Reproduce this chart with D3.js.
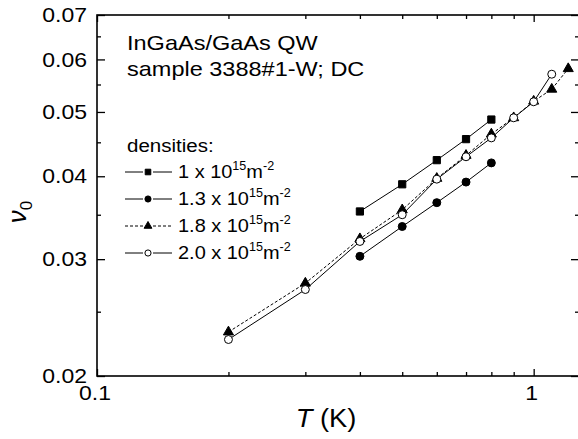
<!DOCTYPE html>
<html>
<head>
<meta charset="utf-8">
<script src="https://cdn.jsdelivr.net/npm/d3@7"></script>
<style>
  body { margin: 0; background: #fff; }
  text { font-family: "Liberation Sans", Arial, sans-serif; fill: #000; }
</style>
</head>
<body>
<div id="chart"></div>
<script>
// data
var temps1 = [0.4, 0.5, 0.6, 0.7, 0.8];
var nu1 = [0.0354, 0.0389, 0.0423, 0.0455, 0.0487];

var temps13 = [0.4, 0.5, 0.6, 0.7, 0.8];
var nu13 = [0.0303, 0.0336, 0.0365, 0.0392, 0.0419];

var temps18 = [0.2, 0.3, 0.4, 0.5, 0.6, 0.7, 0.8, 0.9, 1.0, 1.1, 1.2];
var nu18 = [0.0233, 0.0276, 0.0322, 0.0356, 0.0397, 0.0430, 0.0463, 0.0490, 0.0519, 0.0541, 0.0581];

var temps20 = [0.2, 0.3, 0.4, 0.5, 0.6, 0.7, 0.8, 0.9, 1.0, 1.1];
var nu20 = [0.0227, 0.0270, 0.0319, 0.0350, 0.0396, 0.0428, 0.0457, 0.0490, 0.0518, 0.0570];

var xMajor = [0.1, 1];
var xMinor = [0.2, 0.3, 0.4, 0.5, 0.6, 0.7, 0.8, 0.9];
var yMajor = [0.02, 0.03, 0.04, 0.05, 0.06, 0.07];
var yMinor = [0.025, 0.035, 0.045, 0.055, 0.065];

var legendLabels = ["1", "1.3", "1.8", "2.0"];

var margin = { top: 15, right: -1, bottom: 63, left: 97 },
    W = 578, H = 439,
    width = W - margin.left - margin.right,
    height = H - margin.top - margin.bottom;

var svg = d3.select("#chart")
    .append("svg")
    .attr("width", W)
    .attr("height", H);

var g = svg.append("g")
    .attr("transform", "translate(" + margin.left + "," + margin.top + ")");

var x = d3.scaleLog().domain([0.1, 1.27]).range([0, width]);
var y = d3.scaleLog().domain([0.02, 0.07]).range([height, 0]);

// frame
g.append("rect")
    .attr("width", width)
    .attr("height", height)
    .attr("fill", "none")
    .attr("stroke", "#000")
    .attr("stroke-width", 1.6);

function tickAxis(axis, vals, size, tr) {
    var a = g.append("g")
        .attr("transform", tr)
        .call(axis.tickValues(vals).tickSize(size).tickFormat(""));
    a.select(".domain").remove();
    a.selectAll("line").attr("stroke-width", 1.3);
    return a;
}

// ticks point inward on all four sides
tickAxis(d3.axisBottom(x), xMajor, -7, "translate(0," + height + ")");
tickAxis(d3.axisBottom(x), xMinor, -4, "translate(0," + height + ")");
tickAxis(d3.axisTop(x), xMajor, -7, null);
tickAxis(d3.axisTop(x), xMinor, -4, null);
tickAxis(d3.axisLeft(y), yMajor, -8, null);
tickAxis(d3.axisLeft(y), yMinor, -4, null);
tickAxis(d3.axisRight(y), yMajor, -8, "translate(" + width + ",0)");
tickAxis(d3.axisRight(y), yMinor, -4, "translate(" + width + ",0)");

// tick labels (the original font is a little wide, so stretch it)
g.selectAll(".xlab")
    .data(xMajor)
    .enter().append("text")
    .attr("class", "xlab")
    .attr("transform", function (d) { return "translate(" + (x(d) - 2) + "," + (height + 24) + ") scale(1.15,1)"; })
    .attr("text-anchor", "middle")
    .style("font-size", "20px")
    .text(function (d) { return d === 1 ? "1" : "0.1"; });

g.selectAll(".ylab")
    .data(yMajor)
    .enter().append("text")
    .attr("class", "ylab")
    .attr("transform", function (d) { return "translate(-10," + y(d) + ") scale(1.15,1)"; })
    .attr("dy", "0.36em")
    .attr("text-anchor", "end")
    .style("font-size", "20px")
    .text(function (d) { return d.toFixed(2); });

// axis titles
var xt = svg.append("text")
    .attr("transform", "translate(326,427) scale(1.05,1)")
    .attr("text-anchor", "middle")
    .style("font-size", "26px");
xt.append("tspan").style("font-style", "italic").text("T");
xt.append("tspan").text(" (K)");

var yt = svg.append("text")
    .attr("transform", "translate(26,212) rotate(-90)")
    .attr("text-anchor", "middle")
    .style("font-size", "26px");
yt.append("tspan").style("font-style", "italic").text("\u03bd");
yt.append("tspan").attr("dy", 6).style("font-size", "17px").text("0");

// annotation
svg.append("text").attr("transform", "translate(127,50) scale(1.12,1)").style("font-size", "21px").text("InGaAs/GaAs QW");
svg.append("text").attr("transform", "translate(127,76) scale(1.12,1)").style("font-size", "21px").text("sample 3388#1-W; DC");
svg.append("text").attr("transform", "translate(127,152) scale(1.08,1)").style("font-size", "19px").text("densities:");

// series
var series = [
    { t: temps1, v: nu1, sym: d3.symbolSquare, size: 52, fill: "#000", dash: null },
    { t: temps13, v: nu13, sym: d3.symbolCircle, size: 50, fill: "#000", dash: null },
    { t: temps18, v: nu18, sym: d3.symbolTriangle, size: 44, fill: "#000", dash: "3,2" },
    { t: temps20, v: nu20, sym: d3.symbolCircle, size: 50, fill: "#fff", dash: null }
];

var line = d3.line()
    .x(function (d) { return x(d[0]); })
    .y(function (d) { return y(d[1]); });

series.forEach(function (s) {
    var pts = s.t.map(function (t, i) { return [t, s.v[i]]; });
    g.append("path")
        .datum(pts)
        .attr("fill", "none")
        .attr("stroke", "#000")
        .attr("stroke-width", 1)
        .attr("stroke-dasharray", s.dash)
        .attr("d", line);
});

series.forEach(function (s) {
    var pts = s.t.map(function (t, i) { return [t, s.v[i]]; });
    g.selectAll(null)
        .data(pts)
        .enter().append("path")
        .attr("transform", function (d) { return "translate(" + x(d[0]) + "," + y(d[1]) + ")"; })
        .attr("d", d3.symbol().type(s.sym).size(s.size))
        .attr("fill", s.fill)
        .attr("stroke", "#000")
        .attr("stroke-width", 1);
});

// legend
var legend = svg.selectAll(".legend")
    .data(series)
    .enter().append("g")
    .attr("class", "legend")
    .attr("transform", function (_, i) { return "translate(125," + [172, 199, 226, 253][i] + ")"; });

// short line either side of the marker, with a small gap
[[0, 18], [28, 47]].forEach(function (seg) {
    legend.append("line")
        .attr("x1", seg[0]).attr("x2", seg[1])
        .attr("stroke", "#000")
        .attr("stroke-width", 1)
        .attr("stroke-dasharray", function (d) { return d.dash; });
});

legend.append("path")
    .attr("transform", "translate(23,0)")
    .attr("d", function (d) { return d3.symbol().type(d.sym).size(d.size * 0.6)(); })
    .attr("fill", function (d) { return d.fill; })
    .attr("stroke", "#000")
    .attr("stroke-width", 1);

var lt = legend.append("text")
    .attr("transform", "translate(53,6) scale(1.05,1)")
    .style("font-size", "19px");
lt.append("tspan").text(function (_, i) { return legendLabels[i] + " x 10"; });
lt.append("tspan").attr("dy", -8).style("font-size", "12px").text("15");
lt.append("tspan").attr("dy", 8).text("m");
lt.append("tspan").attr("dy", -8).style("font-size", "12px").text("-2");
</script>
</body>
</html>
